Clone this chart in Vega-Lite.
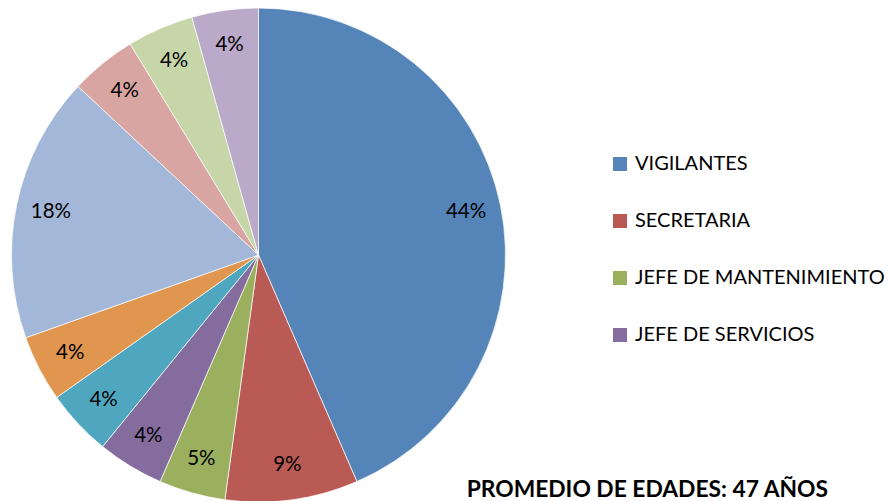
{
  "$schema": "https://vega.github.io/schema/vega-lite/v6.json",
  "width": 517,
  "height": 510,
  "autosize": {"type": "none"},
  "padding": {"left": 0, "top": 0, "right": 371, "bottom": 0},
  "background": "white",
  "title": {
    "text": "PROMEDIO DE EDADES: 47 AÑOS",
    "orient": "bottom",
    "anchor": "end",
    "frame": "group",
    "offset": -20,
    "dx": 311,
    "baseline": "middle",
    "font": "Lato",
    "fontSize": 22.8,
    "fontWeight": "bold",
    "color": "black"
  },
  "data": {
    "values": [
      {"orden": 1, "cargo": "VIGILANTES", "valor": 10, "etiqueta": "44%"},
      {"orden": 2, "cargo": "SECRETARIA", "valor": 2, "etiqueta": "9%"},
      {"orden": 3, "cargo": "JEFE DE MANTENIMIENTO", "valor": 1, "etiqueta": "5%"},
      {"orden": 4, "cargo": "JEFE DE SERVICIOS", "valor": 1, "etiqueta": "4%"},
      {"orden": 5, "cargo": "COORDINADOR", "valor": 1, "etiqueta": "4%"},
      {"orden": 6, "cargo": "CONTADOR", "valor": 1, "etiqueta": "4%"},
      {"orden": 7, "cargo": "ASEADORES", "valor": 4, "etiqueta": "18%"},
      {"orden": 8, "cargo": "CONDUCTOR", "valor": 1, "etiqueta": "4%"},
      {"orden": 9, "cargo": "AUXILIAR", "valor": 1, "etiqueta": "4%"},
      {"orden": 10, "cargo": "ADMINISTRADOR", "valor": 1, "etiqueta": "4%"}
    ]
  },
  "encoding": {
    "theta": {"field": "valor", "type": "quantitative", "stack": true},
    "order": {"field": "orden", "type": "quantitative"}
  },
  "layer": [
    {
      "mark": {"type": "arc", "radius": 247, "stroke": "white", "strokeWidth": 0.7},
      "encoding": {
        "color": {
          "field": "cargo",
          "type": "nominal",
          "scale": {
            "domain": ["VIGILANTES", "SECRETARIA", "JEFE DE MANTENIMIENTO", "JEFE DE SERVICIOS", "COORDINADOR", "CONTADOR", "ASEADORES", "CONDUCTOR", "AUXILIAR", "ADMINISTRADOR"],
            "range": ["#5585B8", "#BA5A55", "#9BB05E", "#856C9E", "#4FA7BF", "#E0964F", "#A3B7D8", "#D9A5A2", "#C6D6A9", "#BAA9C9"]
          },
          "legend": {
            "values": ["VIGILANTES", "SECRETARIA", "JEFE DE MANTENIMIENTO", "JEFE DE SERVICIOS"],
            "orient": "none",
            "legendX": 610,
            "legendY": 154,
            "title": null,
            "symbolType": "square",
            "symbolSize": 196,
            "symbolStrokeWidth": 0,
            "labelFont": "Lato",
            "labelFontSize": 20,
            "labelColor": "black",
            "labelOffset": 5,
            "labelLimit": 400,
            "rowPadding": 37
          }
        }
      }
    },
    {
      "mark": {"type": "text", "radius": 212, "font": "Lato", "fontSize": 20.5, "color": "black"},
      "encoding": {
        "text": {"field": "etiqueta", "type": "nominal"}
      }
    }
  ]
}
